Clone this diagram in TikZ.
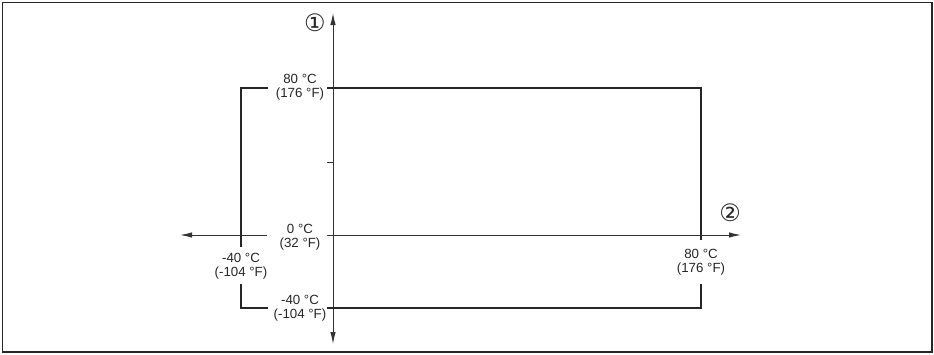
\documentclass[tikz,border=0pt]{standalone}
\usepackage{fontspec}
\setmainfont{Liberation Sans}
\newfontfamily\markfont{DejaVu Sans}
\usetikzlibrary{arrows.meta}
\tikzset{
    frame_line/.style = {
        draw=black!85,
        line width=1.5pt
    },
    main_line/.style = {
        draw=black!85,
        line width=2.4pt
    },
    axis_line/.style = {
        draw=black!80,
        line width=1pt
    },
    axis_arrow/.style = {
        axis_line,
        -{Latex[length=12pt,width=5.5pt]}
    },
    value/.style = {
        align=center,
        inner sep=0pt,
        text=black!85,
        font=\fontsize{13.3}{13.8}\selectfont
    },
    marker/.style = {
        inner sep=0pt,
        text=black!85,
        font=\markfont\fontsize{24}{24}\selectfont
    },
}

\begin{document}
\begin{tikzpicture}[x=1pt,y=-1pt]
    \useasboundingbox (0,0) rectangle (934,354);
    \path[frame_line] (2.5,2.5) rectangle (932,352);

    % axes
    \coordinate (origin) at (333,235);
    \coordinate (y_top) at (333,13);
    \coordinate (y_bot) at (333,344);
    \coordinate (x_left) at (180,235);
    \coordinate (x_right) at (741,235);
    \coordinate (x_gap_l) at (267,235);
    \coordinate (x_gap_r) at (327,235);
    \coordinate (y_tick) at (327,162);
    \coordinate (y_mid) at (333,162);

    \draw[axis_arrow] (origin) -- (y_top);
    \draw[axis_arrow] (origin) -- (y_bot);
    \draw[axis_arrow] (x_gap_l) -- (x_left);
    \draw[axis_arrow] (x_gap_r) -- (x_right);
    \draw[axis_line] (y_tick) -- (y_mid);

    \node[marker] (mark_one) at (315,23) {①};
    \node[marker] (mark_two) at (730,213) {②};

    % labels
    \node[value] (lbl_top) at (300,87) {80 °C\\(176 °F)};
    \node[value] (lbl_zero) at (300,237) {0 °C\\(32 °F)};
    \node[value] (lbl_left) at (241,266) {-40 °C\\(-104 °F)};
    \node[value] (lbl_bot) at (300,308) {-40 °C\\(-104 °F)};
    \node[value] (lbl_right) at (701,262) {80 °C\\(176 °F)};

    % operating range
    \coordinate (tl_a) at (268,88);
    \coordinate (tl) at (241,88);
    \coordinate (l_end) at (241,247);
    \coordinate (l_start) at (241,284);
    \coordinate (bl) at (241,308);
    \coordinate (bl_a) at (268,308);
    \coordinate (t_start) at (327,88);
    \coordinate (tr) at (701,88);
    \coordinate (r_end) at (701,240);
    \coordinate (b_start) at (327,308);
    \coordinate (br) at (701,308);
    \coordinate (r_start) at (701,284);

    \path[main_line] (tl_a) -- (tl) -- (l_end);
    \path[main_line] (l_start) -- (bl) -- (bl_a);
    \path[main_line] (t_start) -- (tr) -- (r_end);
    \path[main_line] (b_start) -- (br) -- (r_start);
\end{tikzpicture}
\end{document}
